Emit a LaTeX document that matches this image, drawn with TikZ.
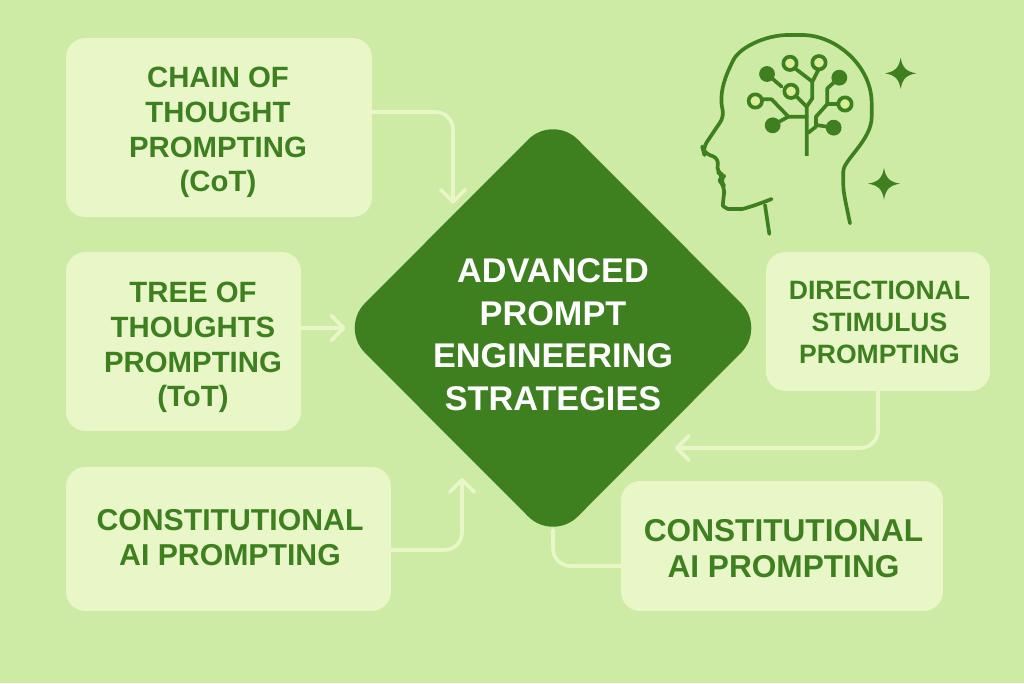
\documentclass[tikz,border=0pt]{standalone}
\usepackage{fontspec}
\setmainfont{Liberation Sans}
\usetikzlibrary{arrows.meta,shapes.geometric}
\definecolor{paper}{RGB}{205,235,165}
\definecolor{cardfill}{RGB}{232,246,200}
\definecolor{leaf}{RGB}{62,128,32}
\definecolor{budfill}{RGB}{216,238,150}
\begin{document}
\begin{tikzpicture}[x=0.02cm,y=-0.02cm,
    card/.style={draw=none,fill=cardfill,rounded corners=11pt,inner sep=0pt},
    caption/.style={text=leaf,align=center,inner sep=0pt},
    caption big/.style={caption,font=\bfseries\fontsize{16.7}{19.75}\selectfont},
    link/.style={draw=cardfill,line width=2.1pt,rounded corners=10pt,line cap=round},
    tipped/.style={link,-{Straight Barb[length=7pt,width=14pt,round]}},
    icon/.style={draw=leaf,line width=2.1pt,line join=round,line cap=round}]
      \fill[paper] (0,0) rectangle (1024,683);
      \useasboundingbox (0,0) rectangle (1024,683);
      \draw
        (553,328) node[diamond,fill=leaf,text=white,align=center,inner sep=0pt,
          minimum width=8.52cm,minimum height=8.54cm,rounded corners=20pt,
          font=\bfseries\fontsize{19.5}{24.2}\selectfont] (strategies)
          {\rule{0pt}{21pt}ADVANCED\\PROMPT\\ENGINEERING\\STRATEGIES}
        (219,127.5) node[card,minimum width=6.12cm,minimum height=3.58cm] (cot) {}
        (183.5,341.5) node[card,minimum width=4.7cm,minimum height=3.58cm] (tot) {}
        (228.5,539) node[card,minimum width=6.5cm,minimum height=2.88cm] (consleft) {}
        (878,321.5) node[card,minimum width=4.48cm,minimum height=2.78cm] (directional) {}
        (782,546) node[card,minimum width=6.44cm,minimum height=2.6cm] (consright) {}
        (218,132.5) node[caption big] (cottext)
          {CHAIN OF\\THOUGHT\\PROMPTING\\(CoT)}
        (193,347.5) node[caption big] (tottext)
          {TREE OF\\THOUGHTS\\PROMPTING\\(ToT)}
        (230,538) node[caption,font=\bfseries\fontsize{17.2}{19.9}\selectfont] (conslefttext)
          {CONSTITUTIONAL\\AI PROMPTING}
        (879.5,322.5) node[caption,font=\bfseries\fontsize{15.1}{18.2}\selectfont] (directionaltext)
          {DIRECTIONAL\\STIMULUS\\PROMPTING}
        (783.5,549) node[caption,font=\bfseries\fontsize{18}{20.5}\selectfont] (consrighttext)
          {CONSTITUTIONAL\\AI PROMPTING};
      \coordinate (cotbend) at (453,112);
      \coordinate (leftbend) at (462,550);
      \coordinate (dirbend) at (878,448);
      \coordinate (rightbend) at (553,566);
      \begin{scope}
        \draw[tipped,shorten >=5.7pt] (cot.east |- cotbend) -- (cotbend) -- (cotbend |- strategies.131.5);
        \draw[tipped,shorten >=-3.4pt,rounded corners=0pt] (tot.east |- strategies) -- (strategies.west);
        \draw[tipped,shorten >=16pt] (consleft.east |- leftbend) -- (leftbend) -- (leftbend |- strategies.233.3);
        \draw[tipped,shorten >=16pt] (directional.south) -- (dirbend) -- (strategies.-52.2 |- dirbend);
        \draw[link] (consright.west |- rightbend) -- (rightbend) -- ([yshift=6.8pt]strategies.south);
      \end{scope}
      % head
      \begin{scope}[shift={(680,10)},x=0.00667cm,y=-0.00667cm]
        \draw[icon] (268,672) -- (255,585);
        \draw[icon,rounded corners=4pt] (275,567) .. controls (230,585) and (190,597) .. (165,597)
          .. controls (145,597) and (128,590) .. (130,565) -- (135,530) -- (118,512) -- (133,497)
          -- (108,485) -- (118,445) -- (72,430) -- (68,415) -- (133,318)
          .. controls (120,270) and (125,230) .. (150,170)
          .. controls (180,110) and (260,75) .. (345,75)
          .. controls (470,75) and (575,170) .. (575,300)
          .. controls (575,390) and (490,450) .. (490,505)
          .. controls (490,550) and (500,590) .. (510,640);
        % branches
        \draw[icon,line cap=butt] (380,438) -- (380,290) -- (397,265) -- (397,215) -- (345,175);
        \draw[icon] (397,215) -- (415,180);
        \draw[icon] (380,290) -- (345,255);
        \draw[icon] (380,320) -- (325,320) -- (275,268) -- (245,268);
        \draw[icon] (325,320) -- (278,346);
        \draw[icon] (261,192) -- (305,230);
        \draw[icon] (385,368) -- (408,350) -- (408,320) -- (442,282) -- (442,235) -- (478,203);
        \draw[icon] (442,282) -- (495,282);
        \draw[icon] (408,345) -- (461,353);
        \foreach \x/\y in {330/160,417/158,333/244,226/273,495/282}
          \draw[icon,fill=budfill] (\x,\y) circle (3.8pt);
        \foreach \x/\y in {261/192,278/346,478/203,461/353}
          \fill[leaf] (\x,\y) circle (4.5pt);
        % sparkles
        \foreach \x/\y/\r in {662/190/47,612/521/48}
          \fill[leaf] (\x,\y-\r)
            .. controls (\x+5,\y-17) and (\x+17,\y-5) .. (\x+\r,\y)
            .. controls (\x+17,\y+5) and (\x+5,\y+17) .. (\x,\y+\r)
            .. controls (\x-5,\y+17) and (\x-17,\y+5) .. (\x-\r,\y)
            .. controls (\x-17,\y-5) and (\x-5,\y-17) .. (\x,\y-\r) -- cycle;
      \end{scope}
    \end{tikzpicture}
\end{document}
